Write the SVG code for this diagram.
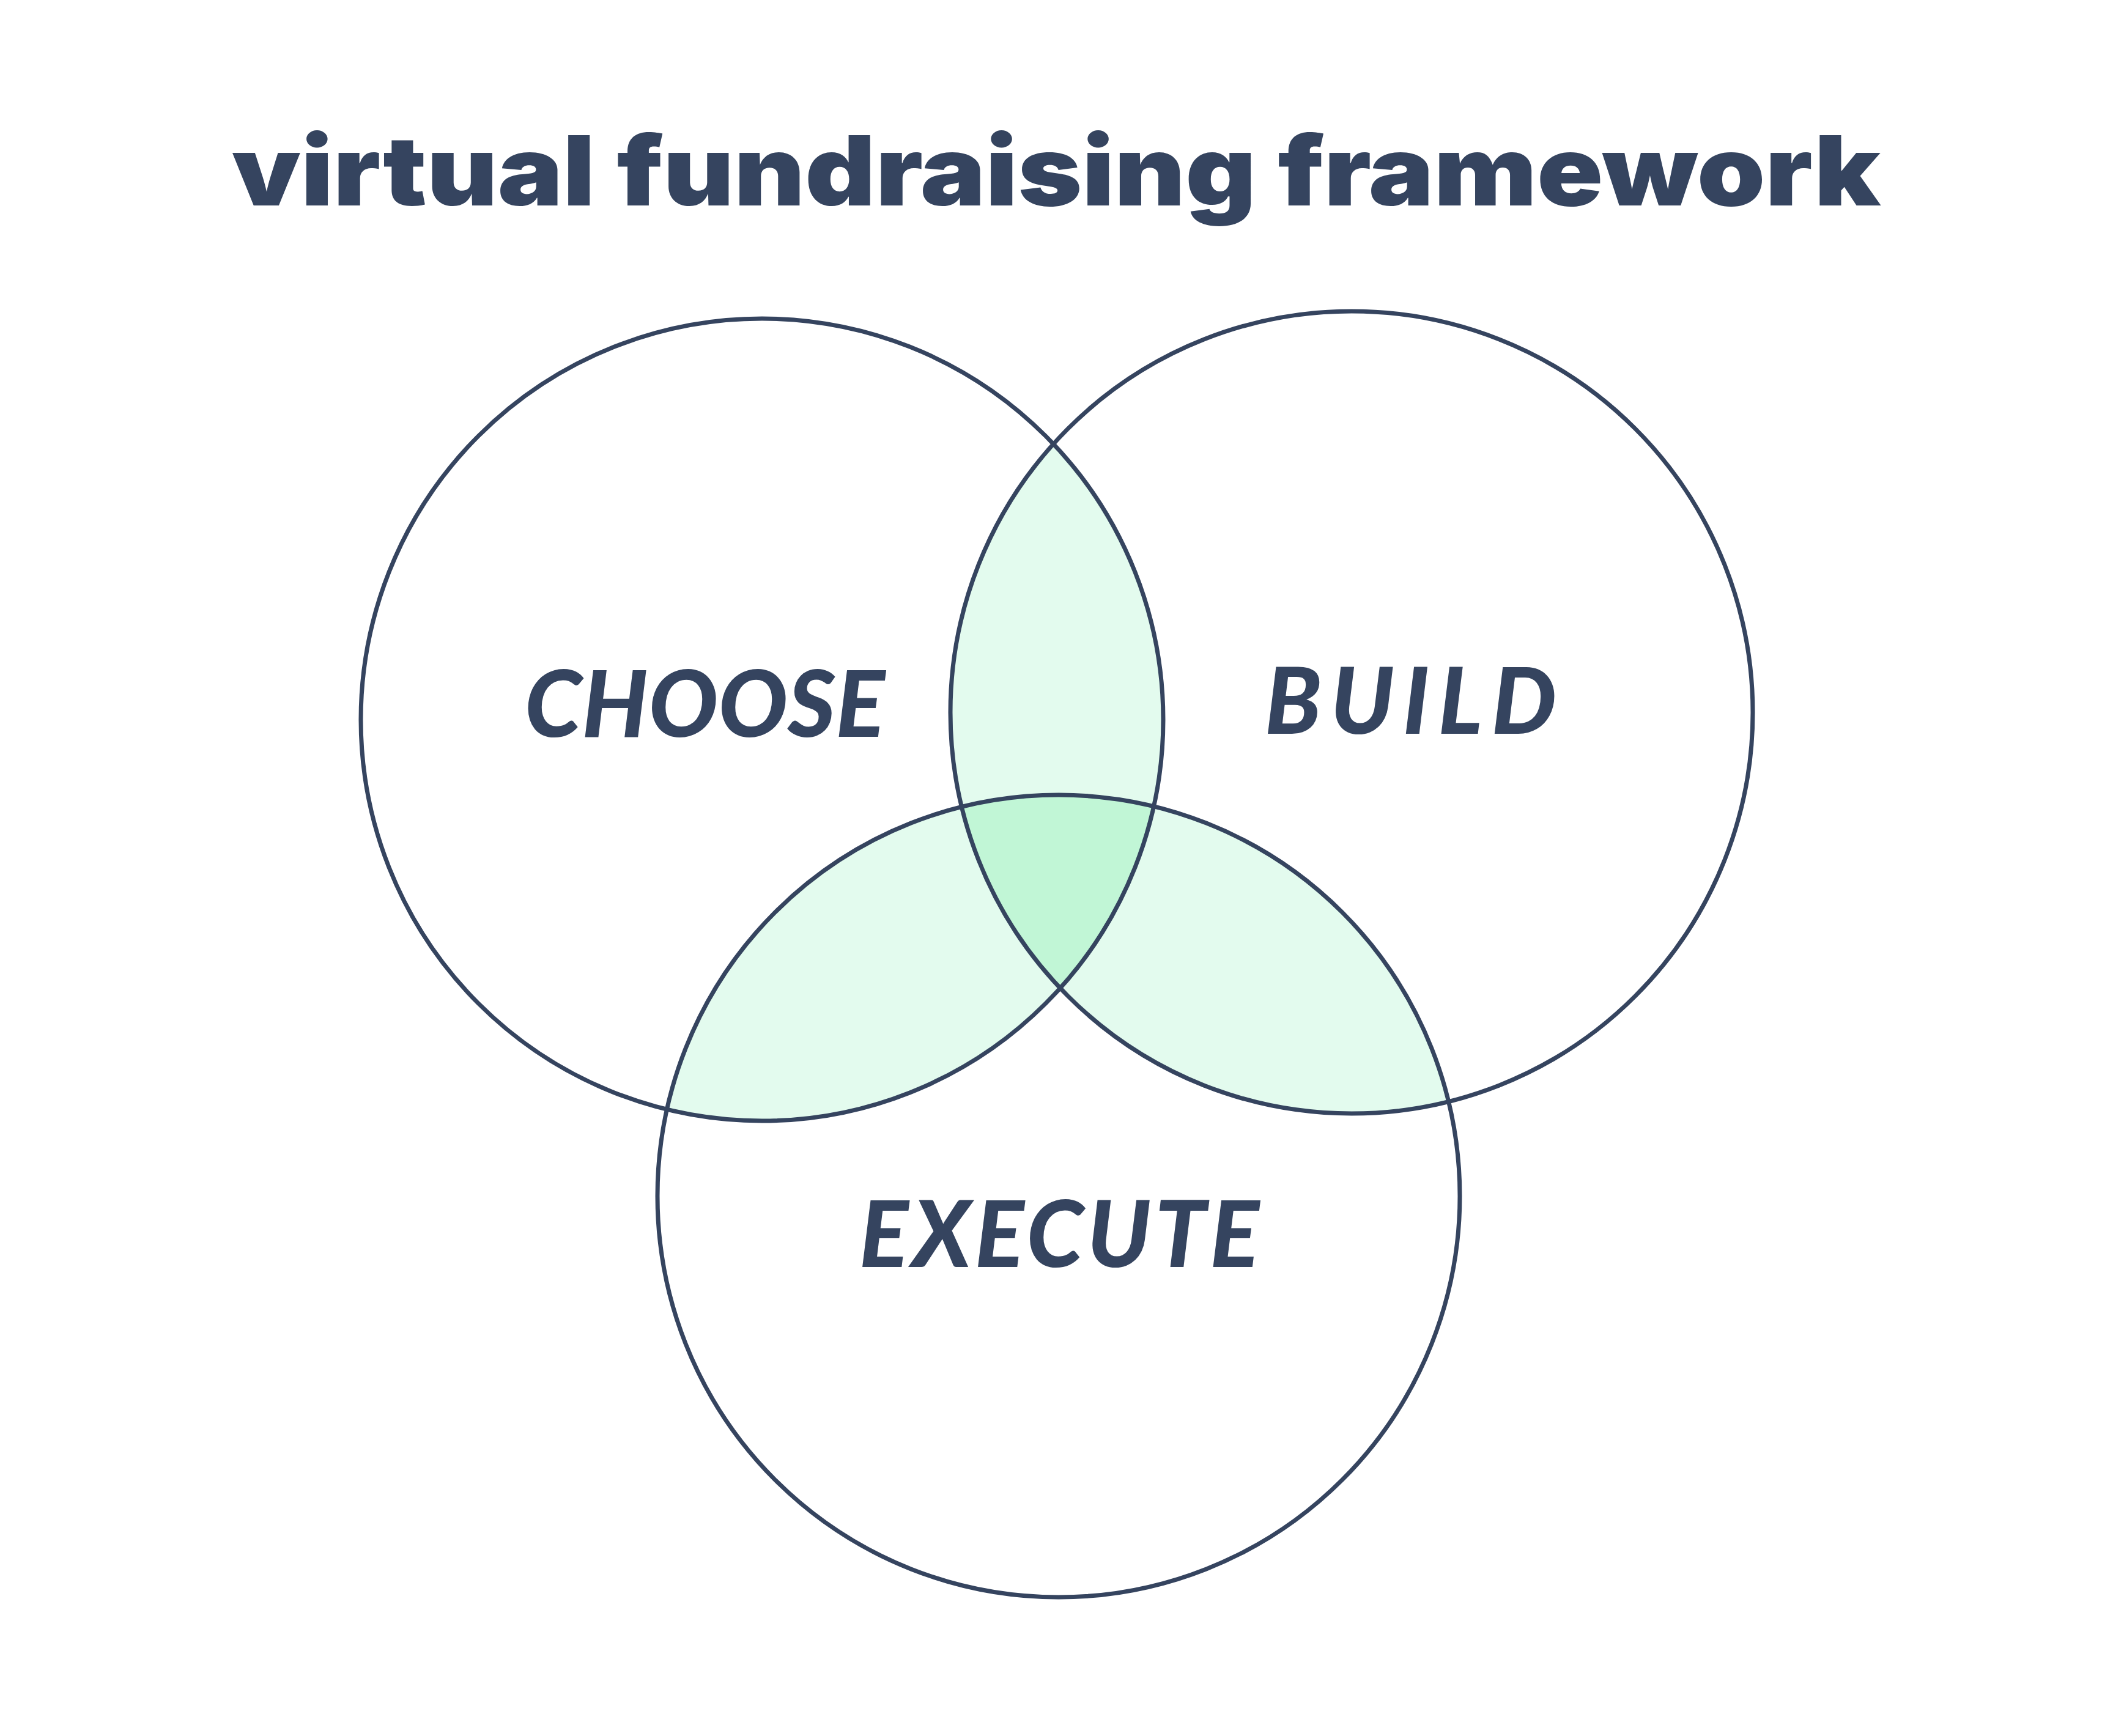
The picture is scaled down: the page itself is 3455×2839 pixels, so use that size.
<svg xmlns="http://www.w3.org/2000/svg" width="3455" height="2839" viewBox="0 0 3455 2839">
  <style>
    .ring { fill: none; stroke: #35445f; stroke-width: 7; }
    .pair { fill: #e3fbee; }
    .triple { fill: #c1f6d6; }
    .title { font-family: Inter, "Liberation Sans", sans-serif; font-weight: 900; font-size: 158px; fill: #35445f; }
    .label { font-family: Lato, "Liberation Sans", sans-serif; font-weight: 900; font-style: italic; font-size: 150px; fill: #35445f; }
  </style>
  <defs>
    <clipPath id="clipA"><circle cx="1246" cy="1177" r="656"/></clipPath>
    <clipPath id="clipB"><circle cx="2210" cy="1165" r="656"/></clipPath>
    <clipPath id="clipC"><circle cx="1731" cy="1956" r="656"/></clipPath>
  </defs>
  <rect x="0" y="0" width="3455" height="2839" fill="#ffffff"/>

  <g id="title">
    <text class="title" x="379" y="336" textLength="2696" lengthAdjust="spacingAndGlyphs">virtual fundraising framework</text>
  </g>

  <g id="overlaps">
    <g clip-path="url(#clipA)"><circle class="pair" cx="2210" cy="1165" r="656"/></g>
    <g clip-path="url(#clipA)"><circle class="pair" cx="1731" cy="1956" r="656"/></g>
    <g clip-path="url(#clipB)"><circle class="pair" cx="1731" cy="1956" r="656"/></g>
    <g clip-path="url(#clipA)"><g clip-path="url(#clipB)"><circle class="triple" cx="1731" cy="1956" r="656"/></g></g>
  </g>

  <g id="choose">
    <circle class="ring" cx="1246" cy="1177" r="656"/>
    <text class="label" x="858" y="1205" textLength="589" lengthAdjust="spacing">CHOOSE</text>
  </g>
  <g id="build">
    <circle class="ring" cx="2210" cy="1165" r="656"/>
    <text class="label" x="2068" y="1200" textLength="477" lengthAdjust="spacing">BUILD</text>
  </g>
  <g id="execute">
    <circle class="ring" cx="1731" cy="1956" r="656"/>
    <text class="label" x="1405" y="2072" textLength="654" lengthAdjust="spacing">EXECUTE</text>
  </g>
  <g id="connectors"></g>
</svg>
